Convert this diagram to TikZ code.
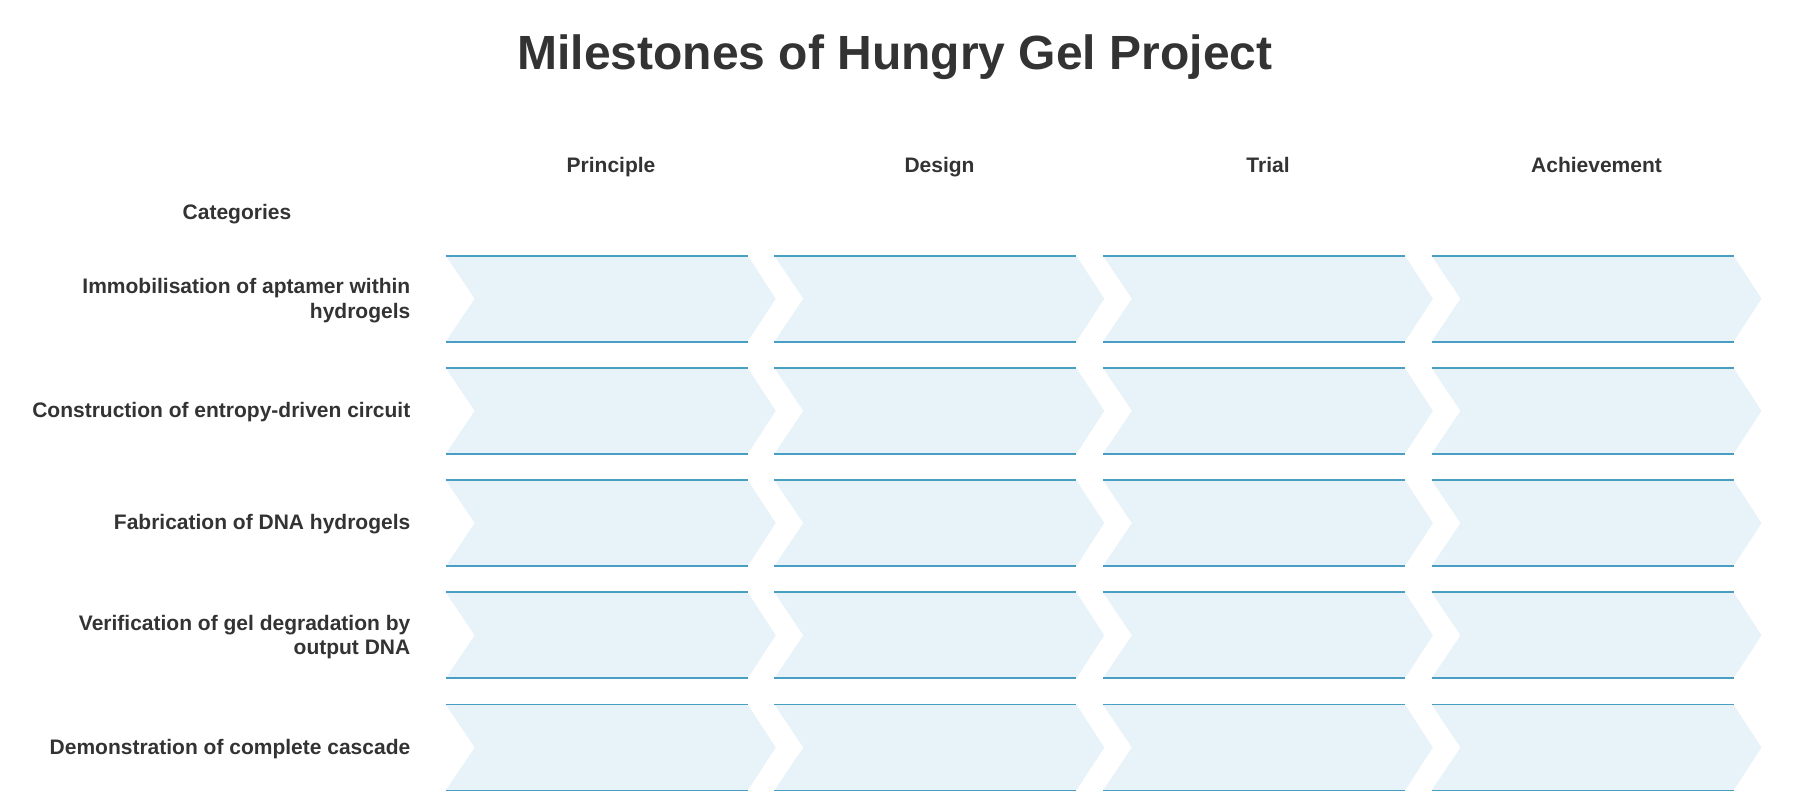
\documentclass[tikz,border=0pt]{standalone}
\usepackage{fontspec}
\setmainfont{Liberation Sans}
\definecolor{txt}{HTML}{333333}
\definecolor{edgec}{HTML}{4A9EC2}
\definecolor{fillc}{HTML}{E7F3F8}
\begin{document}
\begin{tikzpicture}[x=1pt,y=-1pt,
  titletext/.style={font=\fontsize{48}{58}\selectfont\bfseries, text=txt, inner sep=0pt},
  headtext/.style={font=\fontsize{21}{24.5}\selectfont\bfseries, text=txt, inner sep=0pt},
  rowtext/.style={font=\fontsize{21}{24.5}\selectfont\bfseries, text=txt, inner sep=0pt, align=right, anchor=east},
  chevfill/.style={fill=fillc, draw=none},
  chevedge/.style={draw=edgec, line width=1.9pt}]
\useasboundingbox (0,0) rectangle (1803,810);
\node[titletext, anchor=base] (title) at (895,70) {Milestones of Hungry Gel Project};
\node[headtext, anchor=base] (h1) at (611,173) {Principle};
\node[headtext, anchor=base] (h2) at (939.5,173) {Design};
\node[headtext, anchor=base] (h3) at (1268,173) {Trial};
\node[headtext, anchor=base] (h4) at (1596.5,173) {Achievement};
\node[headtext, anchor=base] (cat) at (237,220) {Categories};
% chevrons
\foreach \r in {0,...,4}{
  \foreach \c in {0,...,3}{
    \pgfmathsetmacro{\xa}{445.7+\c*328.6}
    \pgfmathsetmacro{\yt}{255.7+\r*112.2}
    \fill[chevfill] (\xa,\yt) -- ++(302,0) -- ++(28,43) -- ++(-28,43) -- ++(-302,0) -- ++(29,-43) -- cycle;
    \draw[chevedge] (\xa,\yt) -- ++(302,0);
    \draw[chevedge] (\xa,\yt+86) -- ++(302,0);
  }
}
\node[rowtext] (r1) at (410.5,300.5) {Immobilisation of aptamer within\\hydrogels};
\node[rowtext] (r2) at (410.5,412.4) {Construction of entropy-driven circuit};
\node[rowtext] (r3) at (410.5,524.6) {Fabrication of DNA hydrogels};
\node[rowtext] (r4) at (410.5,637) {Verification of gel degradation by\\output DNA};
\node[rowtext] (r5) at (410.5,749) {Demonstration of complete cascade};
\end{tikzpicture}
\end{document}
